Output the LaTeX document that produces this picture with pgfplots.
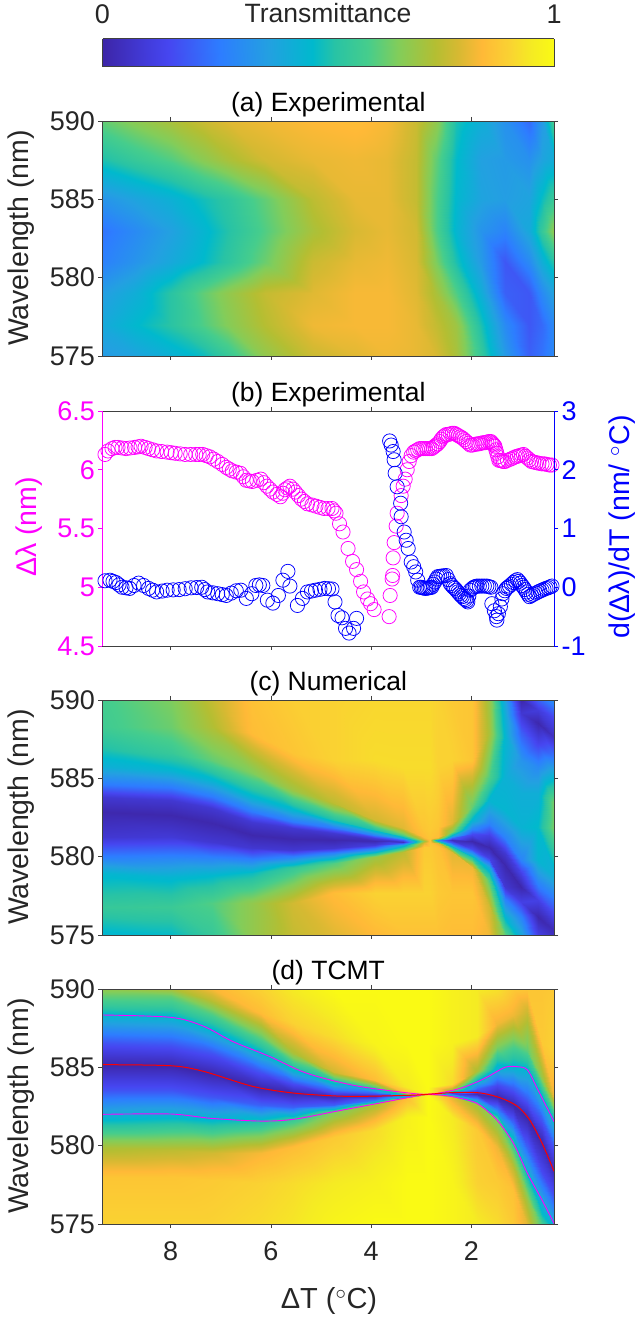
\documentclass[border=0pt]{standalone}
\usepackage{fontspec}
\setmainfont{Liberation Sans}
\usepackage{pgfplots}
\pgfplotsset{compat=1.18}
\definecolor{axc}{HTML}{404040}
\definecolor{txc}{HTML}{262626}
\definecolor{mag}{RGB}{255,0,255}
\definecolor{blu}{RGB}{0,0,255}
\pgfplotsset{
 colormap={tm}{
  rgb255(0)=(61,38,168) rgb255(100)=(66,60,220) rgb255(145)=(70,70,240) rgb255(260)=(45,125,255)
  rgb255(367)=(35,160,225) rgb255(465)=(0,185,205) rgb255(515)=(40,195,165) rgb255(588)=(70,205,140)
  rgb255(655)=(130,205,90) rgb255(737)=(180,190,50) rgb255(788)=(215,185,50) rgb255(840)=(255,185,55)
  rgb255(900)=(250,210,50) rgb255(950)=(245,235,35) rgb255(1000)=(250,250,20)},
 panel/.style={
  scale only axis, width=451.5pt, height=235pt, anchor=south west,
  x dir=reverse, xmin=0.35, xmax=9.36,
  xtick={2,4,6,8}, ticklabel style={font=\fontsize{27}{30}\selectfont,text=txc},
  /pgf/number format/assume math mode=true,
  tick align=outside, major tick length=4pt, tick style={axc,line width=0.6pt},
  axis line style={axc,line width=0.6pt},
  every axis title/.style={at={(0.5,1)},anchor=south,yshift=0pt,font=\fontsize{26.5}{29}\selectfont,text=black},
  xticklabels={},
  xtick pos=both,
 },
 hm/.style={panel, view={0}{90}, ymin=575, ymax=590, ytick={575,580,585,590},
  axis on top, colormap name=tm, point meta min=0, point meta max=1,
  ytick pos=both, yticklabel pos=right,
  y tick label style={/pgf/number format/1000 sep={}},
 },
 ms/.style={surf,shader=interp,point meta=z},
}
\begin{document}
\begin{tikzpicture}[x=1pt,y=1pt]
\path[use as bounding box] (0,0) rectangle (639,1319);
% colour bar
\begin{axis}[scale only axis,at={(102.5pt,1252pt)},anchor=south west,width=451.5pt,height=28pt,
 view={0}{90},xmin=0,xmax=1,ymin=0,ymax=1,xtick={0,1},ytick=\empty,axis on top,
 xticklabel pos=top,colormap name=tm,point meta min=0,point meta max=1,
 major tick length=0pt,ticklabel style={font=\fontsize{27}{30}\selectfont,text=txc},
 /pgf/number format/assume math mode=true,axis line style={axc,line width=1pt},
 xticklabel style={yshift=12pt}]
\addplot3[ms,mesh/cols=3] coordinates {(0,0,0)(0.5,0,0.5)(1,0,1)
(0,1,0)(0.5,1,0.5)(1,1,1)};
\end{axis}
\node[font=\fontsize{26.5}{29}\selectfont,text=txc] at (328,1306) {Transmittance};
% (a)
\begin{axis}[hm,at={(102.5pt,963pt)},title={(a) Experimental}]
\addplot3[ms,mesh/cols=8] coordinates {
(9.36,575,.35)(9.36,577,.40)(9.36,579,.36)(9.36,581,.27)(9.36,583,.24)(9.36,585,.33)(9.36,587.5,.50)(9.36,590,.62)
(8.72,575,.38)(8.72,577,.46)(8.72,579,.42)(8.72,581,.33)(8.72,583,.30)(8.72,585,.38)(8.72,587.5,.55)(8.72,590,.67)
(7.99,575,.43)(7.99,577,.52)(7.99,579,.52)(7.99,581,.40)(7.99,583,.37)(7.99,585,.43)(7.99,587.5,.60)(7.99,590,.72)
(7.34,575,.48)(7.34,577,.60)(7.34,579,.62)(7.34,581,.47)(7.34,583,.45)(7.34,585,.49)(7.34,587.5,.67)(7.34,590,.77)
(6.85,575,.55)(6.85,577,.66)(6.85,579,.68)(6.85,581,.53)(6.85,583,.51)(6.85,585,.53)(6.85,587.5,.72)(6.85,590,.80)
(6.12,575,.68)(6.12,577,.74)(6.12,579,.76)(6.12,581,.63)(6.12,583,.60)(6.12,585,.62)(6.12,587.5,.78)(6.12,590,.82)
(5.15,575,.77)(5.15,577,.82)(5.15,579,.80)(5.15,581,.77)(5.15,583,.72)(5.15,585,.75)(5.15,587.5,.81)(5.15,590,.84)
(4.33,575,.80)(4.33,577,.83)(4.33,579,.83)(4.33,581,.81)(4.33,583,.79)(4.33,585,.81)(4.33,587.5,.82)(4.33,590,.85)
(3.68,575,.82)(3.68,577,.83)(3.68,579,.83)(3.68,581,.82)(3.68,583,.81)(3.68,585,.81)(3.68,587.5,.81)(3.68,590,.83)
(3.11,575,.81)(3.11,577,.81)(3.11,579,.80)(3.11,581,.79)(3.11,583,.78)(3.11,585,.76)(3.11,587.5,.76)(3.11,590,.77)
(2.71,575,.79)(2.71,577,.76)(2.71,579,.72)(2.71,581,.65)(2.71,583,.60)(2.71,585,.60)(2.71,587.5,.62)(2.71,590,.68)
(2.30,575,.72)(2.30,577,.70)(2.30,579,.60)(2.30,581,.50)(2.30,583,.45)(2.30,585,.46)(2.30,587.5,.47)(2.30,590,.50)
(1.81,575,.55)(1.81,577,.50)(1.81,579,.42)(1.81,581,.35)(1.81,583,.33)(1.81,585,.38)(1.81,587.5,.37)(1.81,590,.42)
(1.33,575,.35)(1.33,577,.30)(1.33,579,.20)(1.33,581,.18)(1.33,583,.28)(1.33,585,.36)(1.33,587.5,.35)(1.33,590,.32)
(.84,575,.20)(.84,577,.18)(.84,579,.18)(.84,581,.30)(.84,583,.40)(.84,585,.38)(.84,587.5,.32)(.84,590,.22)
(.59,575,.24)(.59,577,.22)(.59,579,.30)(.59,581,.42)(.59,583,.55)(.59,585,.48)(.59,587.5,.38)(.59,590,.35)
(.35,575,.30)(.35,577,.30)(.35,579,.38)(.35,581,.52)(.35,583,.68)(.35,585,.56)(.35,587.5,.42)(.35,590,.60)
};
\end{axis}
\node[rotate=90,font=\fontsize{28.5}{30}\selectfont,text=txc] at (21,1081) {Wavelength (nm)};
% (b)
\begin{axis}[panel,at={(102.5pt,673pt)},title={(b) Experimental},ymin=4.5,ymax=6.5,ytick={4.5,5,5.5,6,6.5},
 yticklabels={4.5,5,5.5,6,6.5},
 axis y line*=left,y axis line style={mag},y tick label style={text=mag},ytick style={mag}]
\addplot[only marks,mark=o,mag,mark size=7.1pt,mark options={line width=0.75pt}] coordinates {
(9.31,6.13)(9.25,6.16)(9.17,6.18)(9.11,6.19)(9.05,6.19)(8.97,6.185)(8.89,6.18)(8.81,6.185)(8.72,6.19)(8.65,6.195)(8.59,6.20)(8.51,6.19)(8.44,6.18)(8.36,6.17)(8.28,6.16)(8.18,6.155)(8.07,6.15)(7.99,6.145)(7.91,6.14)(7.81,6.135)(7.71,6.13)(7.6,6.13)(7.5,6.13)(7.43,6.13)(7.36,6.13)(7.29,6.12)(7.22,6.11)(7.14,6.09)(7.06,6.07)(6.97,6.045)(6.89,6.02)(6.83,6.005)(6.77,5.99)(6.69,5.98)(6.61,5.97)(6.55,5.94)(6.49,5.91)(6.43,5.905)(6.37,5.90)(6.28,5.91)(6.2,5.92)(6.14,5.89)(6.08,5.86)(6.02,5.835)(5.96,5.81)(5.88,5.79)(5.81,5.77)(5.76,5.80)(5.72,5.83)(5.67,5.845)(5.62,5.86)(5.56,5.835)(5.51,5.81)(5.45,5.78)(5.39,5.75)(5.33,5.73)(5.27,5.71)(5.18,5.70)(5.1,5.69)(5.02,5.68)(4.94,5.67)(4.86,5.67)(4.78,5.67)(4.74,5.65)(4.7,5.63)(4.63,5.54)(4.56,5.47)(4.46,5.33)(4.37,5.22)(4.29,5.15)(4.21,5.05)(4.15,4.96)(4.07,4.90)(4.01,4.86)(3.94,4.81)
(3.64,4.75)(3.62,4.93)(3.58,5.07)(3.57,5.10)(3.56,5.25)(3.54,5.38)(3.5,5.52)(3.48,5.63)(3.4,5.78)(3.36,5.86)(3.32,5.92)(3.28,6.0)(3.24,6.07)(3.2,6.12)
(3.15,6.15)(3.11,6.16)(3.07,6.17)(3.03,6.18)(2.99,6.18)(2.95,6.18)(2.91,6.18)(2.87,6.18)(2.83,6.18)(2.79,6.18)(2.76,6.19)(2.73,6.20)(2.7,6.21)(2.67,6.22)(2.63,6.24)(2.6,6.26)(2.56,6.28)(2.53,6.29)(2.5,6.30)(2.46,6.30)(2.42,6.305)(2.38,6.31)(2.34,6.31)(2.3,6.30)(2.26,6.29)(2.22,6.28)(2.18,6.27)(2.14,6.255)(2.1,6.24)(2.06,6.225)(2.02,6.21)(1.98,6.21)(1.93,6.215)(1.89,6.22)(1.85,6.22)(1.81,6.225)(1.77,6.23)(1.73,6.23)(1.69,6.235)(1.65,6.24)(1.61,6.24)(1.59,6.23)(1.57,6.22)(1.55,6.21)(1.53,6.2)(1.51,6.17)(1.49,6.14)(1.47,6.11)(1.45,6.08)(1.42,6.08)(1.39,6.075)(1.36,6.07)(1.33,6.07)(1.28,6.08)(1.22,6.09)(1.17,6.10)(1.12,6.11)(1.08,6.115)(1.04,6.12)(1,6.125)(.96,6.13)(.92,6.115)(.88,6.10)(.84,6.085)(.8,6.07)(.75,6.065)(.7,6.06)(.65,6.055)(.59,6.05)(.54,6.05)(.49,6.045)(.44,6.04)(.39,6.04)
};
\end{axis}
\begin{axis}[panel,at={(102.5pt,673pt)},ymin=-1,ymax=3,ytick={-1,0,1,2,3},
 axis x line=none,axis y line*=right,y axis line style={blu},y tick label style={text=blu},ytick style={blu}]
\addplot[only marks,mark=o,blu,mark size=7.1pt,mark options={line width=0.75pt}] coordinates {
(9.31,.11)(9.21,.12)(9.15,.10)(9.09,.08)(9.03,.04)(8.97,0)(8.89,-.01)(8.82,-.02)(8.73,.03)(8.64,.07)(8.54,.03)(8.44,-.02)(8.36,-.05)(8.28,-.08)(8.17,-.065)(8.07,-.05)(7.95,-.045)(7.83,-.04)(7.71,-.025)(7.59,-.01)(7.48,-.005)(7.38,0)(7.32,-.04)(7.26,-.08)(7.16,-.095)(7.06,-.11)(6.97,-.125)(6.89,-.14)(6.79,-.10)(6.69,-.06)(6.6,-.05)(6.49,-.19)(6.38,-.11)(6.3,.03)(6.23,.04)(6.16,.03)(6.07,-.22)(5.96,-.27)(5.85,-.14)(5.76,.12)(5.66,.27)(5.62,.02)(5.47,-.31)(5.37,-.19)(5.27,-.08)(5.19,-.065)(5.11,-.05)(5.02,-.035)(4.93,-.02)(4.85,-.025)(4.78,-.03)(4.72,-.25)(4.66,-.48)(4.58,-.52)(4.51,-.70)(4.44,-.78)(4.35,-.70)(4.29,-.53)
(3.63,2.49)(3.6,2.42)(3.56,2.31)(3.54,2.17)(3.52,1.94)(3.48,1.71)(3.41,1.43)(3.4,1.2)(3.34,.94)(3.3,.8)(3.26,.66)(3.2,.43)(3.15,.35)(3.11,.26)(3.07,.12)(3.03,0)(3,0)(2.97,-.01)(2.94,-.015)(2.91,-.02)(2.88,-.015)(2.85,-.01)(2.82,-.005)(2.79,0)(2.76,.05)(2.73,.09)(2.7,.14)(2.67,.18)(2.63,.185)(2.59,.19)(2.55,.195)(2.5,.2)(2.46,.13)(2.42,.06)(2.39,.03)(2.36,0)(2.33,-.02)(2.3,-.05)(2.27,-.08)(2.24,-.11)(2.21,-.14)(2.18,-.16)(2.15,-.19)(2.12,-.21)(2.09,-.23)(2.07,-.25)(2.05,-.15)(2.02,-.05)(1.98,-.02)(1.95,0)(1.92,.01)(1.89,.02)(1.84,.02)(1.79,.02)(1.74,.02)(1.69,.02)(1.65,.01)(1.61,0)(1.59,-.28)(1.54,-.4)(1.5,-.5)(1.49,-.56)(1.46,-.45)(1.42,-.33)(1.39,-.2)(1.37,-.11)(1.33,-.06)(1.3,-.02)(1.27,0)(1.24,.02)(1.2,.05)(1.16,.08)(1.12,.11)(1.08,.13)(1.05,.10)(1.02,.07)(.99,.03)(.96,0)(.93,-.04)(.9,-.08)(.87,-.12)(.84,-.16)(.8,-.14)(.76,-.12)(.71,-.10)(.67,-.08)(.63,-.065)(.59,-.05)(.55,-.035)(.51,-.02)(.47,-.01)(.43,.005)(.39,.02)
};
\end{axis}
\node[rotate=90,font=\fontsize{28.5}{30}\selectfont,text=mag] at (29,792) {Δλ (nm)};
\node[rotate=90,font=\fontsize{28.5}{30}\selectfont,text=blu] at (622,792) {d(Δλ)/dT (nm/ $^{\circ}$C)};
% (c)
\begin{axis}[hm,at={(102.5pt,384pt)},title={(c) Numerical}]
\addplot3[ms,mesh/cols=12] coordinates {
(9.36,575,.45)(9.36,576.81,.55)(9.36,578.94,.45)(9.36,580.11,.25)(9.36,581.28,.08)(9.36,582.87,.01)(9.36,583.83,.08)(9.36,584.57,.25)(9.36,585.74,.42)(9.36,586.81,.50)(9.36,588.30,.57)(9.36,590,.58)
(7.99,575,.47)(7.99,576.81,.56)(7.99,578.72,.45)(7.99,580,.28)(7.99,581.28,.09)(7.99,582.66,.01)(7.99,583.62,.08)(7.99,584.36,.25)(7.99,585.53,.45)(7.99,586.6,.55)(7.99,588.3,.63)(7.99,590,.65)
(7.18,575,.55)(7.18,577.02,.60)(7.18,578.83,.46)(7.18,579.89,.28)(7.18,580.96,.08)(7.18,582.13,.01)(7.18,583.09,.08)(7.18,583.83,.25)(7.18,584.89,.45)(7.18,586.17,.62)(7.18,588.3,.73)(7.18,590,.76)
(6.37,575,.68)(6.37,577.02,.68)(6.37,578.94,.48)(6.37,579.79,.28)(6.37,580.53,.08)(6.37,581.38,.01)(6.37,582.23,.08)(6.37,582.87,.25)(6.37,583.83,.45)(6.37,585.32,.65)(6.37,587.87,.85)(6.37,590,.86)
(5.55,575,.76)(5.55,577.02,.78)(5.55,579.26,.55)(5.55,580,.28)(5.55,580.43,.08)(5.55,581.13,.01)(5.55,581.81,.08)(5.55,582.23,.25)(5.55,582.98,.45)(5.55,584.26,.70)(5.55,586.6,.87)(5.55,590,.89)
(4.74,575,.80)(4.74,577.66,.85)(4.74,579.57,.60)(4.74,580.21,.28)(4.74,580.57,.08)(4.74,581.04,.01)(4.74,581.49,.08)(4.74,581.81,.25)(4.74,582.34,.50)(4.74,583.4,.75)(4.74,586.17,.90)(4.74,590,.90)
(3.93,575,.84)(3.93,577.66,.90)(3.93,580,.70)(3.93,580.47,.30)(3.93,580.72,.10)(3.93,580.98,.02)(3.93,581.21,.10)(3.93,581.40,.28)(3.93,581.7,.50)(3.93,582.34,.78)(3.93,586.17,.92)(3.93,590,.91)
(3.36,575,.86)(3.36,577.66,.90)(3.36,580.32,.75)(3.36,580.72,.40)(3.36,580.85,.18)(3.36,580.96,.05)(3.36,581.06,.18)(3.36,581.21,.40)(3.36,581.38,.60)(3.36,581.81,.80)(3.36,585.74,.92)(3.36,590,.91)
(2.95,575,.86)(2.95,577.66,.90)(2.95,580.64,.88)(2.95,580.89,.80)(2.95,580.96,.75)(2.95,581,.70)(2.95,581.04,.75)(2.95,581.11,.80)(2.95,581.28,.85)(2.95,581.7,.87)(2.95,585.74,.92)(2.95,590,.91)
(2.83,575,.86)(2.83,577.66,.90)(2.83,580.64,.88)(2.83,580.89,.87)(2.83,580.96,.87)(2.83,581,.87)(2.83,581.04,.87)(2.83,581.11,.87)(2.83,581.28,.87)(2.83,581.7,.88)(2.83,585.74,.92)(2.83,590,.91)
(2.67,575,.86)(2.67,577.66,.88)(2.67,580.64,.86)(2.67,580.89,.80)(2.67,580.96,.60)(2.67,581.04,.30)(2.67,581.11,.60)(2.67,581.17,.80)(2.67,581.28,.85)(2.67,581.91,.87)(2.67,585.74,.90)(2.67,590,.90)
(2.38,575,.85)(2.38,577.66,.87)(2.38,580.32,.80)(2.38,580.64,.50)(2.38,580.85,.20)(2.38,581.04,.04)(2.38,581.19,.20)(2.38,581.32,.40)(2.38,581.6,.65)(2.38,582.13,.80)(2.38,586.17,.90)(2.38,590,.88)
(1.98,575,.85)(1.98,577.66,.87)(1.98,579.36,.82)(1.98,580,.50)(1.98,580.47,.15)(1.98,581.02,.01)(1.98,581.45,.15)(1.98,581.81,.30)(1.98,582.34,.45)(1.98,583.19,.62)(1.98,586.17,.87)(1.98,590,.87)
(1.65,575,.82)(1.65,576.81,.78)(1.65,578.51,.60)(1.65,579.36,.40)(1.65,579.89,.12)(1.65,580.64,.01)(1.65,581.38,.12)(1.65,582.13,.28)(1.65,583.62,.45)(1.65,585.11,.60)(1.65,587.87,.72)(1.65,590,.70)
(1.33,575,.62)(1.33,576.17,.45)(1.33,577.23,.28)(1.33,578.09,.08)(1.33,579.47,.01)(1.33,580.21,.08)(1.33,581.28,.28)(1.33,582.98,.45)(1.33,585.11,.43)(1.33,587.66,.45)(1.33,588.94,.42)(1.33,590,.38)
(1.00,575,.40)(1.00,576.17,.28)(1.00,577.13,.12)(1.00,578.09,.01)(1.00,578.94,.12)(1.00,579.79,.28)(1.00,581.91,.44)(1.00,584.04,.42)(1.00,586.17,.33)(1.00,587.87,.20)(1.00,589.15,.08)(1.00,590,.01)
(.67,575,.12)(.67,576.17,.01)(.67,577.23,.12)(.67,578.09,.25)(.67,579.79,.45)(.67,581.91,.47)(.67,584.04,.42)(.67,585.74,.30)(.67,587.23,.13)(.67,588.51,.01)(.67,589.36,.10)(.67,590,.20)
(.35,575,.05)(.35,575.32,.03)(.35,576.38,.15)(.35,577.23,.25)(.35,578.72,.42)(.35,581.91,.65)(.35,583.4,.65)(.35,585.11,.45)(.35,586.38,.25)(.35,587.66,.05)(.35,588.94,.15)(.35,590,.32)
};
\end{axis}
\node[rotate=90,font=\fontsize{28.5}{30}\selectfont,text=txc] at (21,502) {Wavelength (nm)};
% (d)
\begin{axis}[hm,at={(102.5pt,95pt)},title={(d) TCMT},
 xticklabels={2,4,6,8},xticklabel pos=bottom,x tick label style={yshift=-10pt}]
\addplot3[ms,mesh/cols=11] coordinates {
(9.36,575,.90)(9.36,578.02,.87)(9.36,579.94,.72)(9.36,581.98,.42)(9.36,583.53,.17)(9.36,585.17,.01)(9.36,586.55,.17)(9.36,588.34,.45)(9.36,589,.55)(9.36,589.53,.62)(9.36,590,.68)
(7.99,575,.90)(7.99,578.02,.87)(7.99,579.72,.75)(7.99,582,.43)(7.99,583.53,.17)(7.99,585.1,.01)(7.99,586.43,.17)(7.99,588.19,.45)(7.99,588.89,.55)(7.99,589.53,.62)(7.99,590,.72)
(7.18,575,.90)(7.18,577.81,.88)(7.18,579.51,.78)(7.18,581.74,.44)(7.18,583.11,.18)(7.18,584.6,.01)(7.18,585.89,.17)(7.18,587.38,.45)(7.18,588.43,.60)(7.18,589.28,.75)(7.18,590,.83)
(6.20,575,.92)(6.20,577.6,.90)(6.20,579.51,.83)(6.20,581.57,.50)(6.20,582.6,.20)(6.20,583.66,.01)(6.20,584.72,.17)(6.20,585.89,.45)(6.20,586.94,.62)(6.20,588.47,.85)(6.20,590,.90)
(5.55,575,.94)(5.55,577.6,.92)(5.55,579.94,.85)(5.55,581.68,.55)(5.55,582.49,.20)(5.55,583.36,.01)(5.55,583.98,.17)(5.55,584.94,.50)(5.55,585.89,.72)(5.55,587.81,.90)(5.55,590,.95)
(4.74,575,.98)(4.74,577.6,.95)(4.74,580.57,.88)(4.74,582.17,.65)(4.74,582.6,.20)(4.74,583.13,.03)(4.74,583.45,.17)(4.74,584.09,.50)(4.74,584.72,.78)(4.74,586.96,.92)(4.74,590,1)
(3.93,575,1)(3.93,577.6,.97)(3.93,581,.92)(3.93,582.66,.72)(3.93,582.91,.25)(3.93,583.17,.04)(3.93,583.38,.20)(3.93,583.72,.60)(3.93,584.19,.85)(3.93,586.53,.98)(3.93,590,1)
(3.28,575,1)(3.28,577.6,1)(3.28,581.85,.97)(3.28,583.06,.85)(3.28,583.13,.50)(3.28,583.21,.20)(3.28,583.26,.50)(3.28,583.38,.85)(3.28,583.77,.95)(3.28,586.55,1)(3.28,590,1)
(2.87,575,1)(2.87,577.6,1)(2.87,581.85,1)(2.87,583.23,1)(2.87,583.26,.95)(2.87,583.28,.90)(2.87,583.3,.95)(2.87,583.34,1)(2.87,583.77,1)(2.87,586.55,1)(2.87,590,1)
(2.38,575,.98)(2.38,577.6,.98)(2.38,581.85,.95)(2.38,583.09,.80)(2.38,583.21,.40)(2.38,583.34,.10)(2.38,583.4,.35)(2.38,583.55,.70)(2.38,583.94,.92)(2.38,586.55,.97)(2.38,590,.97)
(1.89,575,.95)(1.89,577.6,.90)(1.89,581,.88)(1.89,582.66,.70)(1.89,582.98,.28)(1.89,583.3,.03)(1.89,583.62,.20)(1.89,584.15,.45)(1.89,584.79,.72)(1.89,586.98,.95)(1.89,590,.95)
(1.49,575,.92)(1.49,577.81,.88)(1.49,579.94,.82)(1.49,581.62,.65)(1.49,582.36,.25)(1.49,583.11,.01)(1.49,583.85,.15)(1.49,584.91,.42)(1.49,586.3,.65)(1.49,587.79,.82)(1.49,590,.93)
(1.16,575,.88)(1.16,577.17,.86)(1.16,578.66,.75)(1.16,580.15,.55)(1.16,581.43,.22)(1.16,582.6,.01)(1.16,583.77,.20)(1.16,585.04,.45)(1.16,586.53,.62)(1.16,588.36,.82)(1.16,590,.88)
(.88,575,.80)(.88,576.53,.70)(.88,577.38,.60)(.88,578.23,.45)(.88,579.94,.20)(.88,581.74,.01)(.88,583.15,.22)(.88,584.85,.45)(.88,586.13,.62)(.88,588.68,.78)(.88,590,.87)
(.59,575,.58)(.59,575.57,.48)(.59,576.06,.42)(.59,576.53,.38)(.59,578.34,.15)(.59,580.15,.01)(.59,581.64,.18)(.59,583.13,.45)(.59,584.4,.70)(.59,586.53,.88)(.59,590,.87)
(.35,575,.40)(.35,575.04,.40)(.35,575.06,.40)(.35,575.09,.40)(.35,576.75,.17)(.35,578.34,.03)(.35,579.94,.18)(.35,581.53,.45)(.35,583.13,.82)(.35,586.1,.90)(.35,590,.88)
};
\addplot3[mag,line width=0.9pt,smooth] coordinates {(9.36,588.34,1)(7.99,588.19,1)(7.34,587.62,1)(6.77,586.66,1)(6.03,585.7,1)(5.3,584.64,1)(4.41,583.89,1)(3.68,583.53,1)(2.87,583.28,1)(2.22,583.66,1)(1.73,584.3,1)(1.33,585,1)(1.08,585.04,1)(.88,584.83,1)(.67,583.55,1)(.35,581.53,1)};
\addplot3[mag,line width=0.9pt,smooth] coordinates {(9.36,582,1)(7.99,582.02,1)(7.18,581.74,1)(6.2,581.57,1)(5.55,581.68,1)(4.74,582.17,1)(3.93,582.66,1)(3.28,583.06,1)(2.87,583.28,1)(2.38,583.13,1)(1.89,582.7,1)(1.49,581.64,1)(1.16,580.15,1)(.88,578.23,1)(.59,576.53,1)(.35,575.04,1)};
\addplot3[red,line width=1pt,smooth] coordinates {(9.36,585.17,1)(7.99,585.1,1)(7.34,584.74,1)(6.37,583.79,1)(5.55,583.36,1)(4.5,583.15,1)(3.28,583.21,1)(2.87,583.28,1)(2.3,583.4,1)(1.81,583.36,1)(1.41,583.04,1)(1.08,582.51,1)(.84,581.66,1)(.59,580.17,1)(.35,578.36,1)};
\end{axis}
\node[rotate=90,font=\fontsize{28.5}{30}\selectfont,text=txc] at (21,213) {Wavelength (nm)};
\node[font=\fontsize{29}{30}\selectfont,text=txc] at (329,18) {ΔT ($^{\circ}$C)};
\end{tikzpicture}
\end{document}
